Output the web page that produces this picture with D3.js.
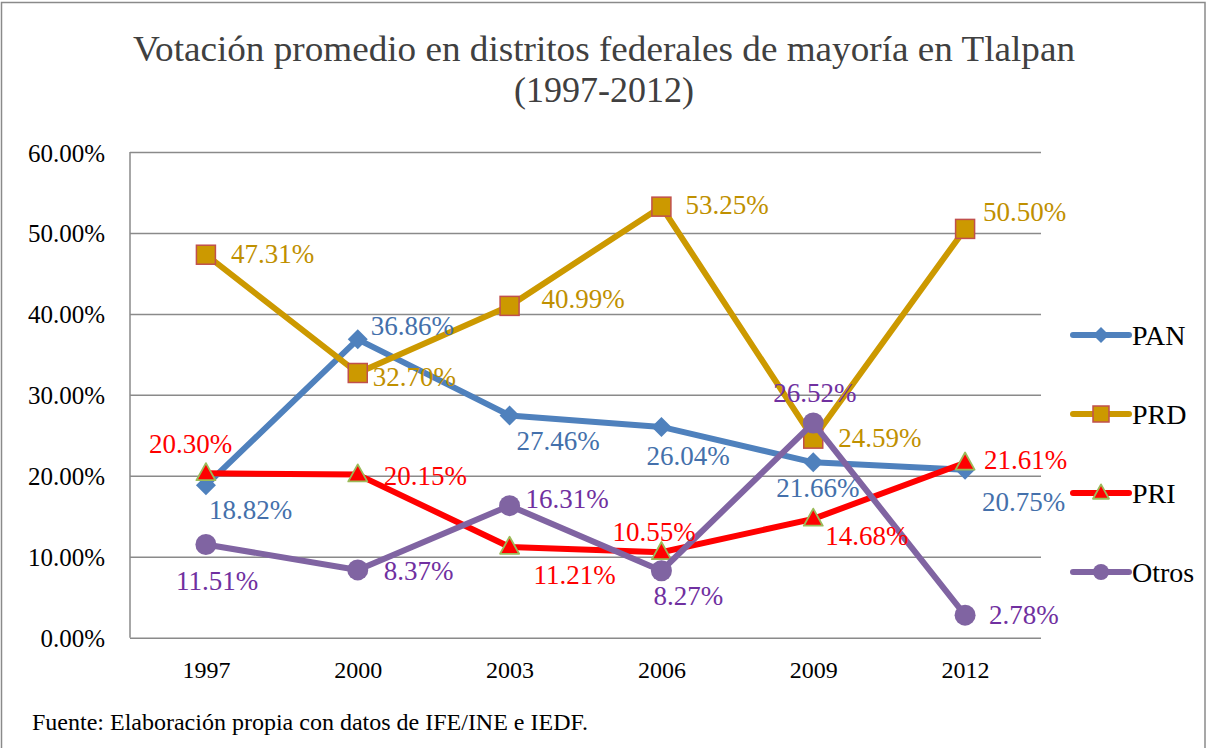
<!DOCTYPE html>
<html>
<head>
<meta charset="utf-8">
<script src="https://cdn.jsdelivr.net/npm/d3@7"></script>
<style>
  body { margin: 0; background: #fff; }
</style>
</head>
<body>
<div id="chart"></div>
<script>
// data
const years = ["1997", "2000", "2003", "2006", "2009", "2012"];
const pan = [18.82, 36.86, 27.46, 26.04, 21.66, 20.75];
const prd = [47.31, 32.70, 40.99, 53.25, 24.59, 50.50];
const pri = [20.30, 20.15, 11.21, 10.55, 14.68, 21.61];
const otros = [11.51, 8.37, 16.31, 8.27, 26.52, 2.78];
const yTicks = [0, 10, 20, 30, 40, 50, 60];

// where each data label sits relative to its point (dx, dy to text baseline start)
const labelNudge = {
  PAN: [[4, 34], [14, -4], [8, 35], [-14, 38], [-36, 35], [18, 41]],
  PRD: [[26, 8], [16, 13], [33, 2], [25, 7], [26, 8], [19, -8]],
  PRI: [[-56, -20], [27, 10], [25, 37], [-48, -11], [13, 26], [20, 6]],
  Otros: [[-29, 45], [27, 10], [17, 2], [-7, 34], [-39, -21], [25, 9]]
};

const FONT = '"Liberation Serif", "Times New Roman", Times, serif';

const series = [
  { name: "PAN", values: pan, line: "#4F81BD", fill: "#4F81BD", stroke: "#4F81BD", label: "#4470AB", marker: "diamond" },
  { name: "PRD", values: prd, line: "#CC9900", fill: "#CC9900", stroke: "#C0504D", label: "#BF9000", marker: "square" },
  { name: "PRI", values: pri, line: "#FF0000", fill: "#FF0000", stroke: "#9BBB59", label: "#FF0000", marker: "triangle" },
  { name: "Otros", values: otros, line: "#8064A2", fill: "#8064A2", stroke: "#8064A2", label: "#7030A0", marker: "circle" }
];

const W = 1207, H = 748;
const margin = { top: 152, right: 166, bottom: 110, left: 130 };

const svg = d3.select("#chart").append("svg")
  .attr("width", W)
  .attr("height", H)
  .attr("font-family", FONT);

// outer frame
svg.append("rect")
  .attr("x", 1.5).attr("y", 2.5)
  .attr("width", W - 3.5).attr("height", H + 10)
  .attr("fill", "none")
  .attr("stroke", "#8a8a8a")
  .attr("stroke-width", 1.5);

// title
const title = svg.append("text")
  .attr("text-anchor", "middle")
  .attr("fill", "#404040")
  .style("font-family", FONT)
  .style("font-size", "36px");
title.append("tspan").attr("x", 604).attr("y", 61)
  .attr("textLength", 942).attr("lengthAdjust", "spacingAndGlyphs")
  .text("Votación promedio en distritos federales de mayoría en Tlalpan");
title.append("tspan").attr("x", 604).attr("y", 102)
  .text("(1997-2012)");

const x = d3.scalePoint().domain(years).range([margin.left, W - margin.right]).padding(0.5);
const y = d3.scaleLinear().domain([0, 60]).range([637.7, margin.top]);

// y axis with gridlines
const yAxis = svg.append("g")
  .attr("transform", "translate(" + margin.left + ",0)")
  .call(d3.axisLeft(y)
    .tickValues(yTicks)
    .tickFormat((d) => d3.format(".2f")(d) + "%")
    .tickSizeInner(-(W - margin.right - margin.left))
    .tickSizeOuter(0)
    .tickPadding(25))
  .attr("font-family", FONT);
yAxis.select(".domain").remove();
yAxis.selectAll(".tick line").attr("stroke", "#8a8a8a").attr("stroke-width", 1.5);
yAxis.selectAll(".tick text")
  .attr("dy", "0.36em")
  .attr("fill", "#000")
  .style("font-family", FONT)
  .style("font-size", "25px");

svg.append("line")
  .attr("x1", margin.left).attr("x2", margin.left)
  .attr("y1", y(60)).attr("y2", y(0))
  .attr("stroke", "#8a8a8a").attr("stroke-width", 1.5);

// x axis
const xAxis = svg.append("g")
  .attr("transform", "translate(0," + y(0) + ")")
  .call(d3.axisBottom(x).tickSize(0).tickPadding(23))
  .attr("font-family", FONT);
xAxis.select(".domain").remove();
xAxis.selectAll(".tick text")
  .attr("fill", "#000")
  .style("font-family", FONT)
  .style("font-size", "24px");

const diamondPath = (size) => {
  const r = size / 2;
  return "M0," + (-r) + "L" + r + ",0L0," + r + "L" + (-r) + ",0Z";
};

// markers
const drawMarker = (g, s, size) => {
  if (s.marker === "diamond") {
    g.append("path").attr("d", diamondPath(size)).attr("fill", s.fill);
  } else if (s.marker === "square") {
    g.append("rect")
      .attr("x", -size / 2).attr("y", -size / 2)
      .attr("width", size).attr("height", size)
      .attr("fill", s.fill).attr("stroke", s.stroke).attr("stroke-width", 1.5);
  } else if (s.marker === "triangle") {
    const h = size * 0.9;
    g.append("path")
      .attr("d", "M0," + (-h * 0.6) + "L" + (size / 2) + "," + (h * 0.4) + "L" + (-size / 2) + "," + (h * 0.4) + "Z")
      .attr("fill", s.fill).attr("stroke", s.stroke).attr("stroke-width", 1.8)
      .attr("stroke-linejoin", "round");
  } else {
    g.append("circle").attr("r", size / 2).attr("fill", s.fill);
  }
};

const markerSize = { diamond: 20, square: 19, triangle: 19, circle: 21 };

// lines + markers
series.forEach((s) => {
  const line = d3.line()
    .x((d, i) => x(years[i]))
    .y((d) => y(d));

  svg.append("path")
    .datum(s.values)
    .attr("d", line)
    .attr("fill", "none")
    .attr("stroke", s.line)
    .attr("stroke-width", 6)
    .attr("stroke-linejoin", "round");

  s.values.forEach((v, i) => {
    const g = svg.append("g")
      .attr("transform", "translate(" + x(years[i]) + "," + y(v) + ")");
    drawMarker(g, s, markerSize[s.marker]);
  });
});

// data labels
series.forEach((s) => {
  svg.append("g").selectAll("text")
    .data(s.values)
    .join("text")
    .attr("x", (d, i) => x(years[i]) + labelNudge[s.name][i][0] - 1)
    .attr("y", (d, i) => y(d) + labelNudge[s.name][i][1])
    .attr("fill", s.label)
    .style("font-family", FONT)
    .style("font-size", "27px")
    .text((d) => d.toFixed(2) + "%");
});

// legend
const legend = svg.append("g").attr("transform", "translate(1073,0)");
const legendY = [335, 414, 493, 572];
series.forEach((s, i) => {
  const g = legend.append("g").attr("transform", "translate(0," + legendY[i] + ")");
  g.append("line")
    .attr("x1", 0).attr("x2", 56)
    .attr("stroke", s.line).attr("stroke-width", 6)
    .attr("stroke-linecap", "round");
  const m = g.append("g").attr("transform", "translate(28,0)");
  drawMarker(m, s, 16);
  g.append("text")
    .attr("x", 59).attr("y", 10)
    .attr("fill", "#000")
    .style("font-family", FONT)
    .style("font-size", "28px")
    .text(s.name);
});

// source note
svg.append("text")
  .attr("x", 32).attr("y", 730)
  .attr("fill", "#000")
  .style("font-family", FONT)
  .style("font-size", "24px")
  .text("Fuente: Elaboración propia con datos de IFE/INE e IEDF.");
</script>
</body>
</html>
